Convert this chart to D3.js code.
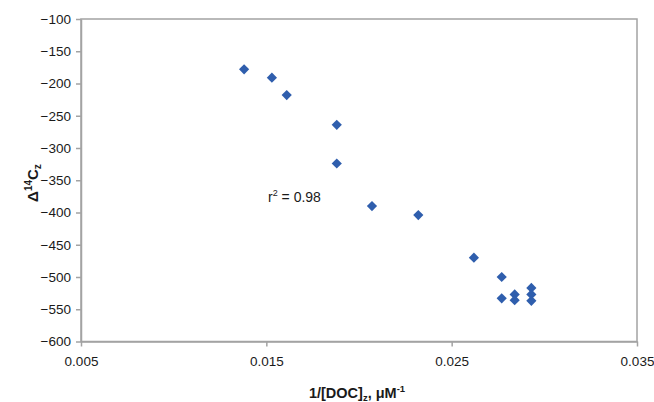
<!DOCTYPE html>
<html>
<head>
<meta charset="utf-8">
<script src="https://cdn.jsdelivr.net/npm/d3@7"></script>
<style>
  html, body { margin: 0; padding: 0; background: #fff; }
  svg text { font-family: "Liberation Sans", Arial, sans-serif; fill: #1a1a1a; }
</style>
</head>
<body>
<svg id="chart" width="654" height="402"></svg>
<script>
// Inverse DOC concentration vs. Δ14C of DOC
const invDoc = [0.0138, 0.0153, 0.0161, 0.0188, 0.0188, 0.0207, 0.0232, 0.0262, 0.0277, 0.0277, 0.0284, 0.0284, 0.0293, 0.0293, 0.0293];
const delta14C = [-178, -191, -218, -264, -324, -390, -404, -470, -500, -533, -527, -536, -517, -527, -537];
const xTicks = [0.005, 0.015, 0.025, 0.035];
const yTicks = [-100, -150, -200, -250, -300, -350, -400, -450, -500, -550, -600];
const r2Label = "0.98";

const svg = d3.select("#chart");
const plotLeft = 81, plotRight = 637, plotTop = 19, plotBottom = 341.5;
const axisGrey = "#a3a3a3";
const tickFont = 13.5;

const x = d3.scaleLinear().domain([0.005, 0.035]).range([plotLeft, plotRight]);
const y = d3.scaleLinear().domain([-600, -100]).range([plotBottom, plotTop]);

// plot area frame
svg.append("rect")
  .attr("x", plotLeft).attr("y", plotTop)
  .attr("width", plotRight - plotLeft).attr("height", plotBottom - plotTop)
  .attr("fill", "none").attr("stroke", axisGrey).attr("stroke-width", 1.5);

// y axis
const gy = svg.append("g").attr("transform", `translate(${plotLeft},0)`)
  .call(d3.axisLeft(y).tickValues(yTicks).tickSize(5).tickSizeOuter(0).tickPadding(5).tickFormat(d3.format("d")));
gy.selectAll("path, line").attr("stroke", axisGrey).attr("stroke-width", 1.5);
gy.selectAll("text").attr("font-size", tickFont).attr("font-family", "Liberation Sans, Arial, sans-serif").attr("fill", "#1a1a1a");

// x axis
const gx = svg.append("g").attr("transform", `translate(0,${plotBottom})`)
  .call(d3.axisBottom(x).tickValues(xTicks).tickSize(5).tickSizeOuter(0).tickPadding(10).tickFormat(d3.format(".3f")));
gx.selectAll("path, line").attr("stroke", axisGrey).attr("stroke-width", 1.5);
gx.selectAll("text").attr("font-size", tickFont).attr("font-family", "Liberation Sans, Arial, sans-serif").attr("fill", "#1a1a1a");

// data markers (diamonds)
const diamond = d3.symbol().type(d3.symbolSquare).size(52);
svg.append("g").selectAll("path")
  .data(invDoc.map((v, i) => [v, delta14C[i]]))
  .join("path")
  .attr("d", diamond)
  .attr("transform", d => `translate(${x(d[0])},${y(d[1])}) rotate(45)`)
  .attr("fill", "#2f5ead");

// correlation label
const r2 = svg.append("text").attr("x", 268).attr("y", 202).attr("font-size", 14);
r2.append("tspan").text("r");
r2.append("tspan").attr("dy", -6).attr("font-size", 9).text("2");
r2.append("tspan").attr("dy", 6).text(" = " + r2Label);

// x axis title
const xt = svg.append("text").attr("x", 357).attr("y", 398)
  .attr("text-anchor", "middle").attr("font-size", 14.5).attr("font-weight", "bold");
xt.append("tspan").text("1/[DOC]");
xt.append("tspan").attr("dy", 3).attr("font-size", 9.5).text("z");
xt.append("tspan").attr("dy", -3).text(", μM");
xt.append("tspan").attr("dy", -6).attr("font-size", 9.5).text("-1");

// y axis title
const yt = svg.append("text")
  .attr("transform", "translate(38,183) rotate(-90)")
  .attr("text-anchor", "middle").attr("font-size", 15).attr("font-weight", "bold");
yt.append("tspan").text("Δ");
yt.append("tspan").attr("dy", -6).attr("font-size", 10).text("14");
yt.append("tspan").attr("dy", 6).text("C");
yt.append("tspan").attr("dy", 3).attr("font-size", 10).text("z");
</script>
</body>
</html>
